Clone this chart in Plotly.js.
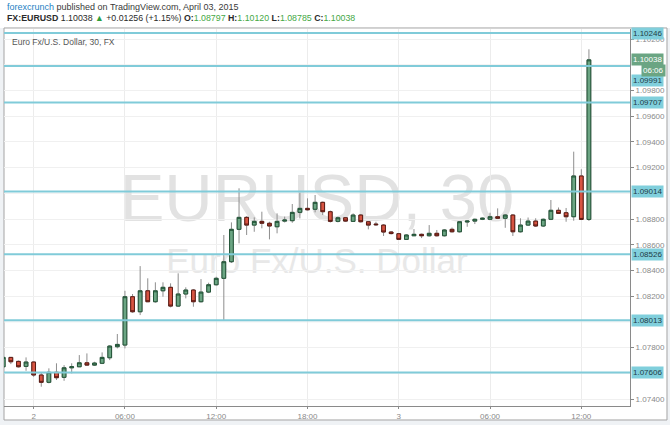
<!DOCTYPE html>
<html>
<head>
<meta charset="utf-8">
<script src="https://cdn.plot.ly/plotly-3.0.1.min.js"></script>
<style>html,body{margin:0;padding:0;background:#eff2f5;}#chart{width:670px;height:425px;}</style>
</head>
<body>
<div id="chart"></div>
<script>
// 30-minute candles, EURUSD, from 2015-04-01 22:00 to 2015-04-03 12:30
const openP = [1.07651,1.07724,1.07693,1.07654,1.07688,1.07587,1.07530,1.07608,1.07569,1.07643,
  1.07651,1.07682,1.07664,1.07678,1.07721,1.07807,1.07820,1.08196,1.08079,1.08242,
  1.08157,1.08242,1.08269,1.08123,1.08217,1.08248,1.08157,1.08232,1.08289,1.08339,
  1.08468,1.08720,1.08813,1.08753,1.08782,1.08767,1.08740,1.08784,1.08787,1.08852,
  1.08883,1.08876,1.08930,1.08857,1.08782,1.08810,1.08782,1.08831,1.08779,1.08761,
  1.08753,1.08699,1.08686,1.08642,1.08670,1.08681,1.08670,1.08689,1.08670,1.08720,
  1.08701,1.08777,1.08784,1.08798,1.08798,1.08818,1.08806,1.08831,1.08701,1.08753,
  1.08784,1.08746,1.08798,1.08868,1.08849,1.08818,1.09135,1.08797];
const highP = [1.07734,1.07727,1.07700,1.07724,1.07692,1.07605,1.07639,1.07678,1.07664,1.07678,
  1.07742,1.07755,1.07690,1.07763,1.07820,1.07906,1.08242,1.08217,1.08434,1.08339,
  1.08308,1.08308,1.08300,1.08378,1.08269,1.08256,1.08333,1.08305,1.08351,1.08676,
  1.08774,1.09039,1.08823,1.08813,1.08857,1.08779,1.08844,1.08819,1.08917,1.09005,
  1.08961,1.08987,1.08936,1.08866,1.08819,1.08816,1.08844,1.08839,1.08784,1.08779,
  1.08761,1.08707,1.08691,1.08683,1.08722,1.08687,1.08753,1.08715,1.08722,1.08734,
  1.08784,1.08792,1.08804,1.08812,1.08849,1.08883,1.08839,1.08839,1.08806,1.08812,
  1.08806,1.08804,1.08948,1.08890,1.08886,1.09324,1.09187,1.10120];
const lowP = [1.07641,1.07672,1.07645,1.07620,1.07573,1.07496,1.07522,1.07548,1.07542,1.07600,
  1.07649,1.07661,1.07657,1.07672,1.07703,1.07794,1.07794,1.08071,1.08053,1.08154,
  1.08149,1.08196,1.08113,1.08116,1.08183,1.08118,1.08151,1.08224,1.08283,1.08014,
  1.08458,1.08611,1.08676,1.08701,1.08728,1.08642,1.08689,1.08773,1.08771,1.08805,
  1.08866,1.08852,1.08831,1.08773,1.08774,1.08777,1.08777,1.08773,1.08720,1.08746,
  1.08668,1.08680,1.08637,1.08637,1.08668,1.08652,1.08664,1.08664,1.08664,1.08695,
  1.08695,1.08740,1.08761,1.08792,1.08792,1.08800,1.08732,1.08668,1.08695,1.08746,
  1.08738,1.08738,1.08792,1.08839,1.08779,1.08787,1.08792,1.08785];
const closeP = [1.07724,1.07690,1.07651,1.07688,1.07587,1.07530,1.07608,1.07566,1.07643,1.07651,
  1.07682,1.07664,1.07680,1.07724,1.07812,1.07825,1.08196,1.08079,1.08242,1.08157,
  1.08242,1.08269,1.08123,1.08217,1.08248,1.08157,1.08232,1.08289,1.08339,1.08468,
  1.08720,1.08813,1.08753,1.08782,1.08767,1.08746,1.08782,1.08792,1.08852,1.08883,
  1.08872,1.08930,1.08857,1.08782,1.08810,1.08784,1.08831,1.08779,1.08753,1.08756,
  1.08699,1.08687,1.08642,1.08676,1.08681,1.08670,1.08689,1.08670,1.08715,1.08701,
  1.08779,1.08784,1.08798,1.08806,1.08818,1.08806,1.08831,1.08701,1.08753,1.08784,
  1.08746,1.08798,1.08868,1.08844,1.08818,1.09135,1.08797,1.10038];

// horizontal drawn levels
const levels = [1.10246, 1.09991, 1.09707, 1.09014, 1.08526, 1.08013, 1.07606];
const lastPrice = 1.10038;
const countdown = "06:06";

// visible price-axis ticks (others are hidden under the level labels)
const yTickVals = [1.07400, 1.07800, 1.08200, 1.08400, 1.08600, 1.08800, 1.09200, 1.09400, 1.09600, 1.09800, 1.10200];
const yGridVals = [1.07600, 1.08000, 1.09000, 1.10000];

const tickVals = ['2015-04-02 00:00','2015-04-02 06:00','2015-04-02 12:00','2015-04-02 18:00',
                  '2015-04-03 00:00','2015-04-03 06:00','2015-04-03 12:00'];
const tickText = ['2','06:00','12:00','18:00','3','06:00','12:00'];

// candle time stamps (every 30 minutes starting 2015-04-01 22:00)
const times = openP.map((_, i) => {
  const m = 22 * 60 + 30 * i;
  const d = 1 + Math.floor(m / 1440);
  const r = m % 1440;
  return '2015-04-0' + d + ' ' + String(Math.floor(r / 60)).padStart(2, '0') + ':' + String(r % 60).padStart(2, '0');
});

const bodyHigh = openP.map((o, i) => Math.max(o, closeP[i]));
const bodyLow = openP.map((o, i) => Math.min(o, closeP[i]));

const FONT = 'Arial, "Liberation Sans", sans-serif';
const WICK = '#8e8e8e';

const traces = [
  {
    type: 'candlestick', x: times, open: openP, high: highP, low: lowP, close: closeP,
    increasing: {line: {color: WICK, width: 1}, fillcolor: WICK},
    decreasing: {line: {color: WICK, width: 1}, fillcolor: WICK},
    hoverinfo: 'skip', showlegend: false
  },
  {
    type: 'candlestick', x: times, open: openP, high: bodyHigh, low: bodyLow, close: closeP,
    increasing: {line: {color: '#225437', width: 1}, fillcolor: '#6ba583'},
    decreasing: {line: {color: '#5b1a13', width: 1}, fillcolor: '#d75442'},
    hoverinfo: 'skip', showlegend: false
  }
];

const shapes = [
  // white header band
  {type: 'rect', xref: 'paper', yref: 'paper', x0: -0.01, x1: 1.07, y0: 1.0027, y1: 1.08,
   fillcolor: '#ffffff', line: {width: 0}, layer: 'below'},
  // chart frame
  {type: 'rect', xref: 'paper', yref: 'paper', x0: 0, x1: 1.0591, y0: -0.0371, y1: 1.0027,
   fillcolor: '#ffffff', line: {color: '#a4a4a4', width: 1}, layer: 'below'}
];
yGridVals.forEach(v => shapes.push({
  type: 'line', xref: 'paper', yref: 'y', x0: 0, x1: 1, y0: v, y1: v,
  line: {color: '#f0f0f0', width: 1}, layer: 'below'
}));
shapes.push(
  // watermark
  {type: 'rect', xref: 'paper', yref: 'paper', x0: 0, x1: 1, y0: 0.508, y1: 0.628,
   line: {width: 0}, fillcolor: 'rgba(0,0,0,0)', layer: 'below',
   label: {text: 'EURUSD, 30', textposition: 'middle center', font: {family: FONT, size: 67, color: '#e2e2e2'}}},
  {type: 'rect', xref: 'paper', yref: 'paper', x0: 0, x1: 1, y0: 0.342, y1: 0.447,
   line: {width: 0}, fillcolor: 'rgba(0,0,0,0)', layer: 'below',
   label: {text: 'Euro Fx/U.S. Dollar', textposition: 'middle center', font: {family: FONT, size: 35, color: '#e8e8e8'}}}
);
levels.forEach(v => shapes.push({
  type: 'line', xref: 'paper', yref: 'y', x0: 0, x1: 1, y0: v, y1: v,
  line: {color: '#80cbd9', width: 2}, layer: 'above'
}));

const annotations = [
  {xref: 'paper', yref: 'paper', x: 0.0016, y: 1.0584, xanchor: 'left', yanchor: 'middle', showarrow: false,
   text: '<span style="color:#1f7fc4">forexcrunch</span> published on TradingView.com, April 03, 2015',
   font: {family: FONT, size: 9, color: '#3a3a3a'}},
  {xref: 'paper', yref: 'paper', x: 0.0016, y: 1.0292, xanchor: 'left', yanchor: 'middle', showarrow: false,
   text: '<b>FX:EURUSD</b> 1.10038 <span style="color:#2e9e3a">▲</span> +0.01256 (+1.15%) ' +
         '<b>O:</b><span style="color:#45a845">1.08797</span> <b>H:</b><span style="color:#45a845">1.10120</span> ' +
         '<b>L:</b><span style="color:#45a845">1.08785</span> <b>C:</b><span style="color:#45a845">1.10038</span>',
   font: {family: FONT, size: 8.8, color: '#2a2a2a'}},
  {xref: 'paper', yref: 'paper', x: 0.0096, y: 0.9663, xanchor: 'left', yanchor: 'middle', showarrow: false,
   text: 'Euro Fx/U.S. Dollar, 30, FX', font: {family: FONT, size: 8.5, color: '#555555'}}
];
levels.forEach((v, i) => annotations.push({
  xref: 'paper', yref: 'y', x: 1, y: v, xanchor: 'left', yanchor: 'middle', xshift: 1,
  yshift: (i === 1 ? -15 : 0), showarrow: false,
  text: v.toFixed(5), bgcolor: '#80cfdc', borderpad: 1,
  font: {family: FONT, size: 8, color: '#1f3c46'}
}));
annotations.push({
  xref: 'paper', yref: 'y', x: 1, y: lastPrice, xanchor: 'left', yanchor: 'middle', xshift: 1, yshift: 0,
  showarrow: false, text: lastPrice.toFixed(5), bgcolor: '#6ba583', borderpad: 1,
  font: {family: FONT, size: 8, color: '#ffffff'}
});
annotations.push({
  xref: 'paper', yref: 'y', x: 1, y: lastPrice, xanchor: 'left', yanchor: 'middle', xshift: 11, yshift: -11,
  showarrow: false, text: countdown, bgcolor: '#6ba583', borderpad: 1,
  font: {family: FONT, size: 8, color: '#ffffff'}
});

const layout = {
  width: 670, height: 425,
  margin: {l: 4, r: 40, t: 29, b: 19, pad: 0},
  paper_bgcolor: '#eff2f5', plot_bgcolor: 'rgba(0,0,0,0)',
  showlegend: false,
  font: {family: FONT},
  xaxis: {
    type: 'date', range: ['2015-04-01 22:03', '2015-04-03 15:12'],
    tickvals: tickVals, ticktext: tickText,
    showgrid: true, gridcolor: '#ececec', gridwidth: 1,
    showline: true, linecolor: '#8a8a8a', linewidth: 1,
    ticks: 'outside', ticklen: 2, tickcolor: '#8a8a8a',
    tickfont: {family: FONT, size: 8, color: '#8a8a8a'},
    rangeslider: {visible: false}, fixedrange: true, zeroline: false
  },
  yaxis: {
    side: 'right', range: [1.07346, 1.10278],
    tickvals: yTickVals, tickformat: '.5f',
    showgrid: true, gridcolor: '#f0f0f0', gridwidth: 1,
    showline: true, linecolor: '#8a8a8a', linewidth: 1,
    ticks: 'outside', ticklen: 3, tickcolor: '#8a8a8a',
    tickfont: {family: FONT, size: 8, color: '#8a8a8a'},
    fixedrange: true, zeroline: false
  },
  shapes: shapes,
  annotations: annotations
};

Plotly.newPlot('chart', traces, layout, {displayModeBar: false, staticPlot: true});
</script>
</body>
</html>
